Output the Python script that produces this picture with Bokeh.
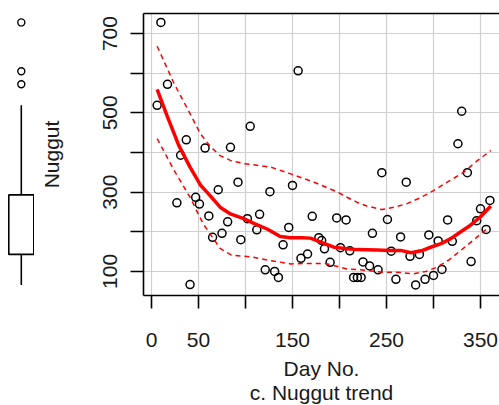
from bokeh.plotting import figure
from bokeh.layouts import row
from bokeh.models import Range1d, LinearAxis, FixedTicker, Title
from bokeh.embed import file_html
from bokeh.resources import INLINE

# ---- data ----
day = [6, 10, 17, 27, 31, 37, 41, 47, 51, 57, 61, 65, 71, 75, 81, 84, 92, 95, 102, 105,
       112, 115, 121, 126, 131, 135, 140, 146, 150, 156, 159, 166, 171, 178, 181, 184, 190, 197, 201, 207,
       211, 215, 219, 223, 225, 232, 235, 241, 245, 251, 255, 260, 265, 271, 275, 281, 285, 291, 295, 300,
       305, 309, 315, 320, 326, 330, 336, 340, 346, 350, 356, 360]
nuggut = [519, 728, 572, 273, 393, 432, 67, 287, 270, 411, 240, 186, 306, 196, 225, 413, 325, 180, 233, 466,
          205, 244, 104, 301, 100, 85, 167, 211, 317, 606, 133, 144, 239, 185, 178, 157, 123, 235, 160, 230,
          152, 85, 85, 85, 124, 114, 196, 104, 349, 231, 151, 80, 187, 325, 138, 66, 143, 80, 192, 90,
          177, 105, 230, 176, 422, 504, 349, 125, 228, 258, 206, 279]

fit_day = [6, 17, 29, 41, 52, 59, 73, 84, 98, 110, 123, 137, 148, 160, 169, 180, 194, 208, 219, 240,
           254, 265, 276, 287, 297, 308, 318, 329, 339, 350, 361]
fit_val = [559, 490, 418, 363, 318, 300, 262, 245, 233, 220, 207, 188, 185, 185, 184, 174, 161, 157, 155, 154,
           153, 153, 147, 152, 161, 170, 182, 200, 216, 238, 265]

upper_day = [6, 24, 41, 52, 63, 73, 84, 98, 112, 127, 148, 173, 198, 208, 219, 229, 245, 258, 272, 287,
             300, 316, 332, 346, 361]
upper_val = [668, 574, 498, 447, 414, 392, 380, 372, 368, 363, 346, 325, 300, 287, 274, 265, 256, 262, 271, 287,
             304, 327, 350, 378, 405]

lower_day = [6, 24, 41, 55, 73, 85, 105, 125, 148, 165, 185, 208, 222, 247, 261, 279, 292, 304, 317, 329, 343, 357]
lower_val = [435, 355, 287, 220, 158, 141, 137, 128, 119, 120, 120, 106, 104, 98, 98, 94, 100, 111, 130, 153, 180, 208]

box_whisker_low = 66
box_q1 = 143
box_median = 205
box_q3 = 293
box_whisker_high = 519
box_outliers = [572, 605, 728]

x_ticks = [0, 50, 100, 150, 200, 250, 300, 350]
x_tick_labels = ["0", "50", "", "150", "", "250", "", "350"]
y_ticks = [100, 200, 300, 400, 500, 600, 700]
y_tick_labels = ["100", "", "300", "", "500", "", "700"]

FONT = "Liberation Sans"
FS = "21px"
TXT = "#1a1a1a"

H = 405
BT = 13
BB = 110

y_range = Range1d(39.3, 750.5)

# ---- box plot ----
BW = 34
box_pos = [1]
bx = figure(width=BW, height=H, x_range=Range1d(0.3344, 0.3344 + BW / 31.25), y_range=y_range,
            output_backend="svg", toolbar_location=None, title=None,
            x_axis_location=None, y_axis_location=None,
            min_border_left=0, min_border_right=0, min_border_top=BT, min_border_bottom=BB)
bx.grid.visible = False
bx.outline_line_color = None

bx.segment(x0=box_pos, y0=[box_q3], x1=box_pos, y1=[box_whisker_high], line_color="black", line_width=1.6)
bx.segment(x0=box_pos, y0=[box_whisker_low], x1=box_pos, y1=[box_q1], line_color="black", line_width=1.6)
bx.vbar(x=box_pos, width=0.8, bottom=[box_q1], top=[box_q3], fill_color="white",
        line_color="black", line_width=1.6)
bx.rect(x=box_pos, y=[box_median], width=0.8, height=0, line_color="black", line_width=1.6)
bx.scatter(x=box_pos * len(box_outliers), y=box_outliers, marker="circle", size=7,
           fill_color=None, line_color="black", line_width=1.4)

# ---- scatter ----
SW = 499 - BW
p = figure(width=SW, height=H, x_range=Range1d(-8.51, 370.2), y_range=y_range,
           output_backend="svg", toolbar_location=None, title=None,
           min_border_left=109, min_border_right=0, min_border_top=BT, min_border_bottom=BB)
p.outline_line_color = None

xa = p.xaxis[0]
xa.ticker = FixedTicker(ticks=x_ticks)
xa.major_label_overrides = dict(zip(x_ticks, x_tick_labels))
xa.major_tick_out = 13
xa.major_tick_in = 0
xa.minor_tick_out = 0
xa.minor_tick_in = 0
xa.major_label_standoff = 24
xa.major_label_text_font = FONT
xa.major_label_text_font_size = FS
xa.major_label_text_color = TXT
xa.axis_label = "Day No."
xa.axis_label_text_font = FONT
xa.axis_label_text_font_size = FS
xa.axis_label_text_font_style = "normal"
xa.axis_label_text_color = TXT
xa.axis_label_standoff = 7
xa.axis_line_color = "black"
xa.axis_line_width = 1.6
xa.major_tick_line_color = "black"
xa.major_tick_line_width = 1.6

p.add_layout(Title(text="c. Nuggut trend", align="center", text_font=FONT, text_font_size=FS,
                   text_font_style="normal", text_color=TXT, standoff=-8), "below")

ya = p.yaxis[0]
ya.ticker = FixedTicker(ticks=y_ticks)
ya.major_label_overrides = dict(zip(y_ticks, y_tick_labels))
ya.major_label_orientation = "vertical"
ya.major_tick_out = 13
ya.major_tick_in = 0
ya.minor_tick_out = 0
ya.minor_tick_in = 0
ya.major_label_standoff = 13
ya.major_label_text_font = FONT
ya.major_label_text_font_size = FS
ya.major_label_text_color = TXT
ya.axis_label = "Nuggut"
ya.axis_label_text_font = FONT
ya.axis_label_text_font_size = FS
ya.axis_label_text_font_style = "normal"
ya.axis_label_text_color = TXT
ya.axis_label_standoff = 38
ya.axis_line_color = "black"
ya.axis_line_width = 1.6
ya.major_tick_line_color = "black"
ya.major_tick_line_width = 1.6

top = LinearAxis(ticker=FixedTicker(ticks=[]), major_tick_out=0, major_tick_in=0,
                 minor_tick_out=0, minor_tick_in=0, major_label_standoff=0,
                 axis_line_color="black", axis_line_width=1.6)
p.add_layout(top, "above")

p.xgrid.grid_line_color = "#d0d0d0"
p.ygrid.grid_line_color = "#d0d0d0"
p.xgrid.grid_line_width = 1.2
p.ygrid.grid_line_width = 1.2

p.scatter(x=day, y=nuggut, marker="circle", size=8, fill_color=None,
          line_color="black", line_width=1.5)
p.line(upper_day, upper_val, line_color="red", line_width=1.5, line_dash="5 4")
p.line(lower_day, lower_val, line_color="red", line_width=1.5, line_dash="5 4")
p.line(fit_day, fit_val, line_color="red", line_width=3.5)

layout = row(bx, p)
open("out.html", "w").write(file_html(layout, INLINE))
